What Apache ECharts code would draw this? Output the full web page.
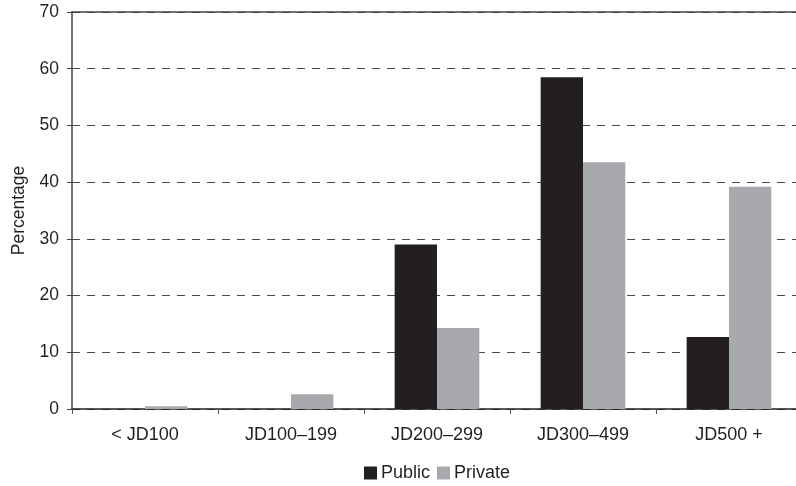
<!DOCTYPE html>
<html>
<head>
<meta charset="utf-8">
<script src="https://cdn.jsdelivr.net/npm/echarts@6/dist/echarts.min.js"></script>
<style>
html,body{margin:0;padding:0;background:#fff;}
#chart{width:796px;height:486px;}
</style>
</head>
<body>
<div id="chart"></div>
<script>
const categories = ['< JD100', 'JD100–199', 'JD200–299', 'JD300–499', 'JD500 +'];
const publicValues = [0, 0, 29.0, 58.5, 12.7];
const privateValues = [0.5, 2.6, 14.3, 43.5, 39.2];
const yTicks = [0, 10, 20, 30, 40, 50, 60, 70];

const font = '"Liberation Sans", Arial, sans-serif';
const chart = echarts.init(document.getElementById('chart'));
chart.setOption({
  animation: false,
  backgroundColor: '#ffffff',
  textStyle: { fontFamily: font },
  grid: { left: 72, width: 730, top: 12, height: 397, containLabel: false, outerBoundsMode: 'none' },
  legend: {
    top: 459,
    left: 359,
    itemWidth: 13,
    itemHeight: 13,
    itemGap: 7,
    icon: 'rect',
    textStyle: { fontFamily: font, fontSize: 18, color: '#231f20', padding: [0, 0, 0, -1] },
    data: ['Public', 'Private']
  },
  xAxis: [{
    type: 'category',
    data: categories,
    axisLine: { show: true, lineStyle: { color: '#231f20', width: 1.5 } },
    axisTick: { show: true, length: 5, lineStyle: { color: '#555', width: 1 } },
    axisLabel: { fontSize: 18, color: '#231f20', margin: 17, fontFamily: font },
    splitLine: { show: false }
  }, {
    type: 'category',
    position: 'top',
    data: categories,
    axisLine: { show: true, lineStyle: { color: '#444', width: 1.5 } },
    axisTick: { show: false },
    axisLabel: { show: false }
  }],
  yAxis: {
    type: 'value',
    min: yTicks[0],
    max: yTicks[yTicks.length - 1],
    interval: 10,
    name: 'Percentage',
    nameLocation: 'middle',
    nameGap: 35,
    nameRotate: 90,
    nameTextStyle: { fontSize: 17.5, color: '#231f20', fontFamily: font },
    axisLine: { show: true, lineStyle: { color: '#444', width: 1.5 } },
    axisTick: { show: true, inside: false, length: 5, lineStyle: { color: '#444' } },
    axisLabel: { fontSize: 17.5, color: '#231f20', margin: 13, fontFamily: font },
    splitLine: { show: true, lineStyle: { color: '#4a4a4a', width: 1, type: [8, 7] } }
  },
  series: [{
    name: 'Public',
    type: 'bar',
    data: publicValues,
    barGap: '0%',
    barCategoryGap: '42%',
    itemStyle: { color: '#231f20' }
  }, {
    name: 'Private',
    type: 'bar',
    data: privateValues,
    barGap: '0%',
    barCategoryGap: '42%',
    itemStyle: { color: '#a7a9ac' }
  }]
});
</script>
</body>
</html>
